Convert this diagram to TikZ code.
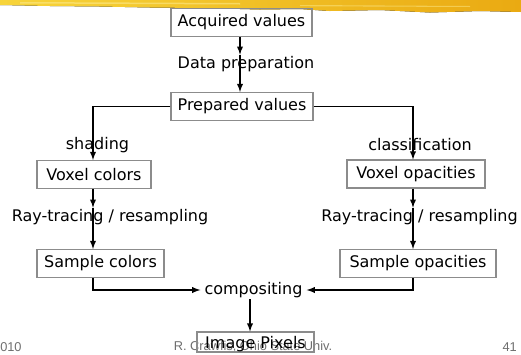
\documentclass[tikz,border=0pt]{standalone}
\usepackage{fontspec}
\setmainfont{DejaVu Sans}
\newfontfamily\footfont{Liberation Sans}
\usetikzlibrary{arrows,positioning}
\definecolor{brushlight}{HTML}{F7D43A}
\definecolor{brushdark}{HTML}{EAAA12}
\definecolor{brushstreak}{HTML}{FCE98A}
\definecolor{boxgray}{HTML}{8C8C8C}
\definecolor{footgray}{HTML}{6E6E6E}

\begin{document}
\begin{tikzpicture}[x=0.75pt,y=-0.75pt,>=latex,
  box/.style={rectangle,draw=boxgray,line width=0.8pt,minimum height=21pt,
    inner xsep=2pt,font=\fontsize{12}{14}\selectfont},
  lbl/.style={inner sep=1pt,font=\fontsize{12}{14}\selectfont},
  flow/.style={->,line width=1.1pt},
  foot/.style={inner sep=0pt,text=footgray,font=\footfont\fontsize{9.6}{11}\selectfont}]
\useasboundingbox (0,0) rectangle (521,354);
% brush stroke at the top
\fill[left color=brushlight,right color=brushdark]
  (0,-2) -- (521,-2) -- (521,12) -- (480,11) -- (430,12.5) -- (380,10)
  -- (330,11) -- (300,9) -- (260,9.5) -- (200,8) -- (150,7.5) -- (100,6.5)
  -- (50,6) -- (0,5) -- cycle;
\fill[brushstreak,opacity=0.6] (20,2) -- (240,3) -- (240,4.5) -- (20,3.5) -- cycle;
\fill[brushstreak,opacity=0.5] (300,5) -- (470,6) -- (470,7) -- (300,6.2) -- cycle;
%
\node (acq) [box,minimum width=105.75pt] at (241.5,22.5) {Acquired values};
\node (dataprep) [lbl] at (246,64) {Data preparation};
\node (prep) [box,minimum width=106.5pt] at (242,106.5) {Prepared values};
\node (shading) [lbl] at (97.5,145) {shading};
\node (classif) [lbl] at (420,145) {classification};
\node (vcol) [box,minimum width=85.5pt] at (94,174.5) {Voxel colors};
\node (vop) [box,minimum width=103.5pt] at (416,174) {Voxel opacities};
\node (rtl) [lbl] at (110,217) {Ray-tracing / resampling};
\node (rtr) [lbl] at (419.5,217) {Ray-tracing / resampling};
\node (scol) [box,minimum width=95.25pt] at (100.5,263.5) {Sample colors};
\node (sop) [box,minimum width=117pt] at (418,263.5) {Sample opacities};
\node (comp) [lbl,inner xsep=3pt] at (253.5,290) {compositing};
%
\node (f1) [foot,anchor=west] at (0,347) {010};
\node (f2) [foot] at (253,347) {R. Crawfis, Ohio State Univ.};
\node (f3) [foot,anchor=east] at (517,347) {41};
\node (img) [box,minimum height=0pt,text height=9pt,text depth=0pt,inner ysep=3pt,
  minimum width=87.75pt] at (255.5,342) {Image Pixels};
%
\coordinate (lcol) at (93,0);
\coordinate (rcol) at (413,0);
\coordinate (mcol) at (240,0);
\coordinate (ccol) at (250,0);
%
\draw[flow] (mcol |- acq.south) -- (mcol |- dataprep.north);
\draw[flow] (mcol |- dataprep.north) -- (mcol |- prep.north);
\draw[flow] (prep.west) -| (lcol |- vcol.north);
\draw[flow] (prep.east) -| (rcol |- vop.north);
\draw[flow] (lcol |- vcol.south) -- (lcol |- rtl.north);
\draw[flow] (lcol |- rtl.north) -- (lcol |- scol.north);
\draw[flow] (rcol |- vop.south) -- (rcol |- rtr.north);
\draw[flow] (rcol |- rtr.north) -- (rcol |- sop.north);
\draw[flow] (lcol |- scol.south) |- (comp.west);
\draw[flow] (rcol |- sop.south) |- (comp.east);
\draw[flow] (ccol |- comp.south) -- (ccol |- img.north);
\end{tikzpicture}
\end{document}
